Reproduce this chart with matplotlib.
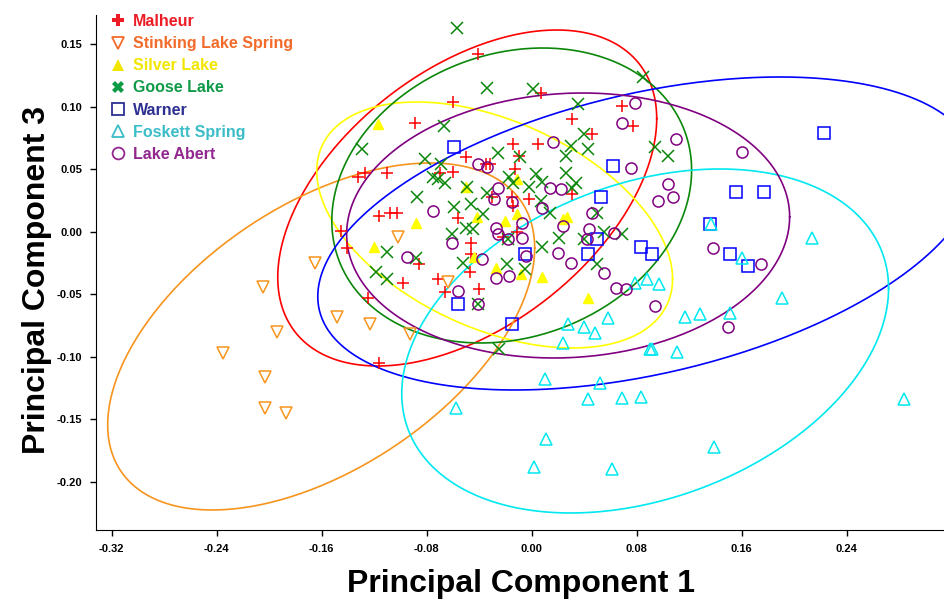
import numpy as np
import matplotlib
matplotlib.use("Agg")
import matplotlib.pyplot as plt
from matplotlib.lines import Line2D

plt.rcParams['font.family'] = ['Liberation Sans', 'DejaVu Sans']

# ---- scores (PC1, PC3) ----
malheur_x = [-0.041, -0.060, -0.089, -0.132, -0.127, -0.110, -0.070, -0.060, -0.050, -0.035,
             -0.032, -0.014, -0.010, -0.013, 0.007, 0.031, 0.069, 0.077, 0.046, 0.005,
             0.031, -0.030, -0.015, -0.014, -0.002, -0.056, -0.116, -0.108, -0.103, -0.145,
             -0.141, -0.086, -0.098, -0.071, -0.066, -0.046, -0.046, -0.047, -0.040, -0.125,
             -0.022, -0.011, -0.116]
malheur_y = [0.142, 0.104, 0.087, 0.044, 0.047, 0.047, 0.047, 0.048, 0.060, 0.054,
             0.054, 0.070, 0.061, 0.050, 0.111, 0.090, 0.101, 0.085, 0.078, 0.070,
             0.030, 0.028, 0.028, 0.021, 0.026, 0.011, 0.013, 0.015, 0.015, 0.001,
             -0.013, -0.026, -0.041, -0.038, -0.048, -0.009, -0.018, -0.032, -0.046, -0.053,
             -0.004, 0.000, -0.105]

stinking_x = [-0.235, -0.205, -0.194, -0.203, -0.203, -0.187, -0.165, -0.148, -0.123, -0.102,
              -0.093, -0.064]
stinking_y = [-0.097, -0.044, -0.080, -0.116, -0.141, -0.145, -0.025, -0.068, -0.074, -0.004,
              -0.082, -0.040]

silver_x = [-0.117, -0.050, -0.011, -0.088, -0.120, -0.042, -0.020, -0.011, 0.024, 0.027,
            -0.027, -0.008, 0.008, -0.044, 0.043]
silver_y = [0.086, 0.036, 0.042, 0.007, -0.012, 0.012, 0.009, 0.014, 0.010, 0.012,
            -0.029, -0.034, -0.036, -0.020, -0.053]

goose_x = [-0.057, -0.034, 0.001, 0.035, 0.085, -0.067, -0.129, -0.081, -0.069, -0.026,
           -0.009, 0.040, 0.030, 0.026, 0.043, 0.094, 0.104, -0.075, -0.071, -0.066,
           -0.049, -0.034, -0.017, -0.014, -0.002, 0.003, 0.008, 0.026, 0.034, 0.031,
           -0.087, -0.059, -0.046, -0.037, -0.050, -0.045, -0.061, -0.110, -0.088, -0.119,
           -0.110, -0.052, -0.019, -0.005, -0.041, -0.018, -0.025, 0.007, 0.014, 0.021,
           0.008, 0.050, 0.055, 0.069, 0.040, 0.050]
goose_y = [0.163, 0.115, 0.114, 0.102, 0.124, 0.085, 0.066, 0.058, 0.054, 0.063,
           0.060, 0.078, 0.069, 0.061, 0.066, 0.068, 0.061, 0.044, 0.042, 0.039,
           0.036, 0.031, 0.044, 0.039, 0.036, 0.046, 0.040, 0.047, 0.039, 0.035,
           0.028, 0.020, 0.022, 0.014, 0.003, 0.002, -0.002, -0.016, -0.021, -0.032,
           -0.038, -0.025, -0.026, -0.030, -0.058, -0.006, -0.094, 0.025, 0.015, -0.005,
           -0.012, 0.015, 0.000, -0.002, -0.006, -0.026]

warner_x = [-0.059, 0.062, 0.053, 0.050, 0.043, 0.083, 0.092, -0.005, -0.056, -0.015,
            0.136, 0.223, 0.156, 0.177, 0.151, 0.165]
warner_y = [0.068, 0.053, 0.028, -0.006, -0.018, -0.012, -0.018, -0.018, -0.058, -0.074,
            0.006, 0.079, 0.032, 0.032, -0.018, -0.027]

foskett_x = [-0.058, 0.010, 0.052, 0.043, 0.069, 0.083, 0.011, 0.002, 0.061, 0.139,
             0.191, 0.284, 0.024, 0.028, 0.040, 0.048, 0.058, 0.079, 0.088, 0.097,
             0.090, 0.092, 0.111, 0.117, 0.128, 0.151, 0.160, 0.214, 0.137]
foskett_y = [-0.141, -0.118, -0.121, -0.134, -0.133, -0.132, -0.166, -0.188, -0.190, -0.172,
             -0.053, -0.134, -0.089, -0.074, -0.076, -0.081, -0.069, -0.041, -0.038, -0.042,
             -0.094, -0.094, -0.096, -0.068, -0.066, -0.065, -0.021, -0.005, 0.006]

abert_x = [-0.041, -0.034, -0.026, -0.029, -0.015, -0.075, -0.007, -0.027, -0.026, -0.018,
           -0.007, -0.061, -0.095, -0.038, -0.004, 0.008, 0.014, 0.022, 0.016, 0.046,
           0.044, 0.042, 0.063, 0.020, 0.030, 0.055, 0.069, 0.079, 0.076, 0.110,
           0.104, 0.108, 0.096, 0.024, -0.027, -0.017, -0.056, -0.041, 0.064, 0.072,
           0.094, 0.160, 0.138, 0.175, 0.150]
abert_y = [0.054, 0.052, 0.035, 0.026, 0.024, 0.017, 0.007, 0.003, -0.002, -0.006,
           -0.005, -0.009, -0.020, -0.022, -0.019, 0.019, 0.035, 0.034, 0.072, 0.015,
           0.002, -0.006, -0.001, -0.017, -0.025, -0.033, 0.087, 0.103, 0.051, 0.074,
           0.038, 0.028, 0.025, 0.005, -0.037, -0.035, -0.047, -0.058, -0.045, -0.046,
           -0.059, 0.064, -0.013, -0.026, -0.076]

# ellipses: centre x, centre y, half-width, half-height, x offset of the top point
ell_cx = [-0.0491, -0.1604, -0.0282, -0.0152, 0.0880, 0.0865, 0.0278]
ell_cy = [0.0272, -0.0836, 0.0056, 0.0292, -0.0012, -0.0872, 0.0052]
ell_hx = [0.1444, 0.1627, 0.1356, 0.1371, 0.2510, 0.1855, 0.1688]
ell_hy = [0.1344, 0.1388, 0.0984, 0.1180, 0.1252, 0.1376, 0.1060]
ell_tx = [0.0682, 0.0830, -0.0594, 0.0236, 0.1010, 0.0568, 0.0110]

names = ['Malheur', 'Stinking Lake Spring', 'Silver Lake', 'Goose Lake',
         'Warner', 'Foskett Spring', 'Lake Abert']
xs = [malheur_x, stinking_x, silver_x, goose_x, warner_x, foskett_x, abert_x]
ys = [malheur_y, stinking_y, silver_y, goose_y, warner_y, foskett_y, abert_y]

point_col = ['#ff0000', '#f7941d', '#ffff00', '#0a870a', '#0000ff', '#00e8f0', '#800080']
text_col = ['#ed1c24', '#f26b2a', '#f2e600', '#0f9a48', '#2e3192', '#3bbdc8', '#92278f']
markers = ['+', 'v', '^', 'x', 's', '^', 'o']
filled = [True, False, True, True, False, False, False]
leg_markers = ['P', 'v', '^', 'X', 's', '^', 'o']


def ellipse_xy(cx, cy, hx, hy, tx):
    sxy = tx * hy
    L = np.linalg.cholesky(np.array([[hx ** 2, sxy], [sxy, hy ** 2]]))
    t = np.linspace(0, 2 * np.pi, 400)
    pts = L @ np.vstack([np.cos(t), np.sin(t)])
    return cx + pts[0], cy + pts[1]


fig = plt.figure(figsize=(9.45, 6.0), dpi=100)
ax = fig.add_axes([0.1016, 0.1167, 0.8984, 0.8583])

for i in range(7):
    ex, ey = ellipse_xy(ell_cx[i], ell_cy[i], ell_hx[i], ell_hy[i], ell_tx[i])
    ax.plot(ex, ey, color=point_col[i], lw=1.2, zorder=2)

for i in range(7):
    if markers[i] in ('+', 'x'):
        ax.plot(xs[i], ys[i], ls='none', marker=markers[i], ms=8.5, mew=1.1,
                color=point_col[i], zorder=3)
    elif filled[i]:
        ax.plot(xs[i], ys[i], ls='none', marker=markers[i], ms=7.5,
                color=point_col[i], mec=point_col[i], zorder=3)
    else:
        ax.plot(xs[i], ys[i], ls='none', marker=markers[i], ms=8, mew=1.1,
                mfc='none', mec=point_col[i], zorder=3)

handles = []
for i in range(7):
    if filled[i]:
        h = Line2D([], [], ls='none', marker=leg_markers[i], ms=9,
                   color=text_col[i], mec=text_col[i], mew=0)
    else:
        h = Line2D([], [], ls='none', marker=leg_markers[i], ms=8.5, mew=1.3,
                   mfc='none', mec=text_col[i])
    handles.append(h)
leg = ax.legend(handles, names, loc='upper left', bbox_to_anchor=(0.0, 1.030),
                frameon=False, handlelength=1.0, handletextpad=0.4,
                labelspacing=0.45, prop={'weight': 'bold', 'size': 11.5})
for txt, c in zip(leg.get_texts(), text_col):
    txt.set_color(c)

ax.set_xlim(-0.332, 0.315)
ax.set_ylim(-0.2384, 0.1736)
ax.set_xticks([-0.32, -0.24, -0.16, -0.08, 0.0, 0.08, 0.16, 0.24])
ax.set_yticks([-0.20, -0.15, -0.10, -0.05, 0.0, 0.05, 0.10, 0.15])
ax.set_xticklabels(['%.2f' % v for v in ax.get_xticks()])
ax.set_yticklabels(['%.2f' % v for v in ax.get_yticks()])
for lab in ax.get_xticklabels() + ax.get_yticklabels():
    lab.set_fontweight('bold')
    lab.set_fontsize(8)
ax.tick_params(direction='out', length=4, width=1, pad=6)
ax.spines['top'].set_visible(False)
ax.spines['right'].set_visible(False)

ax.set_xlabel('Principal Component 1', fontsize=23, fontweight='bold', labelpad=11)
ax.set_ylabel('Principal Component 3', fontsize=23, fontweight='bold')
ax.yaxis.set_label_coords(-0.0518, 0.4845)

fig.savefig('out.png', dpi=100)
